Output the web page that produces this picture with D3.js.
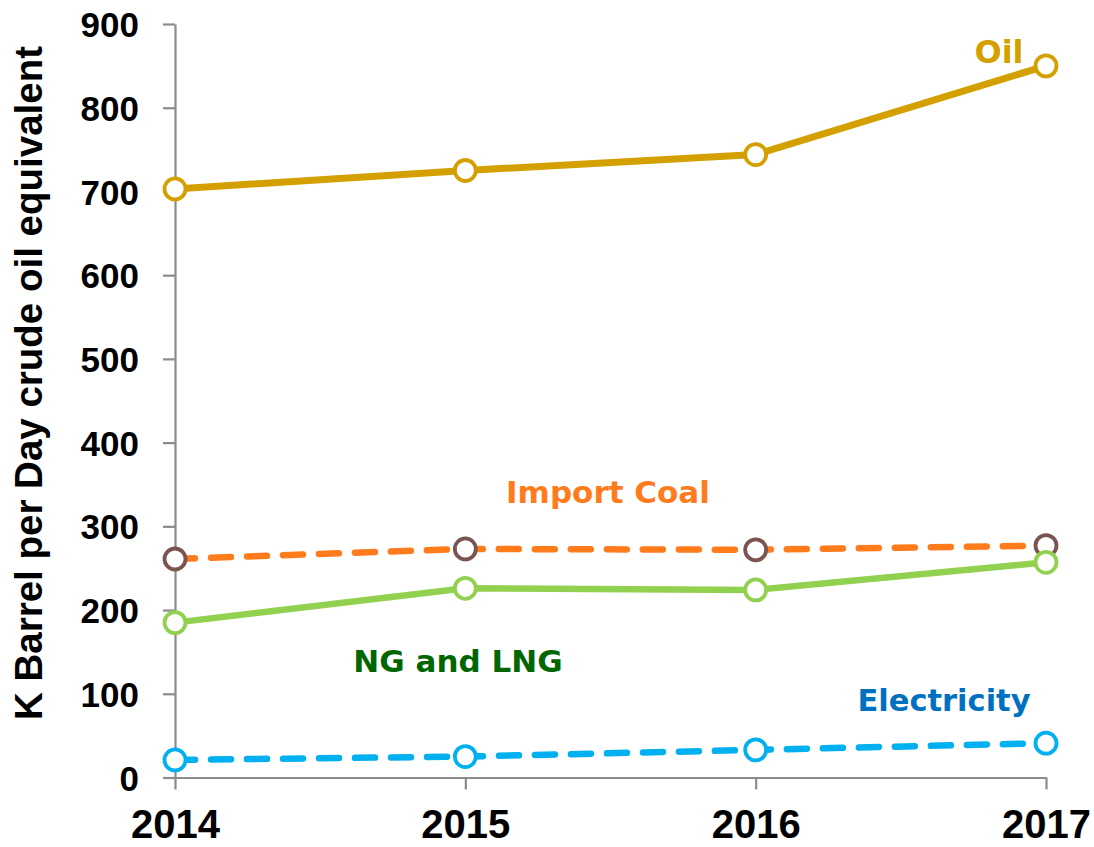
<!DOCTYPE html>
<html><head><meta charset="utf-8">
<script src="https://cdn.jsdelivr.net/npm/d3@7"></script>
<style>body{margin:0;background:#fff}</style>
</head><body>
<svg id="c" width="1094" height="847"></svg>
<script>
const years = [2014, 2015, 2016, 2017];
const oil = [703, 725, 744, 850];
const importCoal = [261, 273, 272, 277];
const ngLng = [185, 226, 224, 257];
const electricity = [21, 25, 33, 41];
const yTicks = [0, 100, 200, 300, 400, 500, 600, 700, 800, 900];
const yTitle = "K Barrel per Day crude oil equivalent";

const svg = d3.select("#c");
const x = d3.scalePoint().domain(years).range([175, 1046]);
const y = d3.scaleLinear().domain([0, 900]).range([777.5, 24]);

// axes
const yAxis = svg.append("g").attr("transform", "translate(175,0)")
  .call(d3.axisLeft(y).tickValues(yTicks).tickSize(12).tickPadding(24).tickSizeOuter(0));
const xAxis = svg.append("g").attr("transform", "translate(0,777.5)")
  .call(d3.axisBottom(x).tickSize(12).tickPadding(20).tickSizeOuter(0));
[yAxis, xAxis].forEach(a => {
  a.selectAll("path, line").attr("stroke", "#8c8c8c").attr("stroke-width", 2.2);
  a.selectAll("text").attr("fill", "#000").attr("font-family", "'Liberation Sans', Arial, sans-serif").attr("font-weight", "bold");
});
yAxis.selectAll("text").attr("font-size", 35).attr("dy", "0.36em");
xAxis.selectAll("text").attr("font-size", 40).attr("dy", "0.72em");

svg.append("text")
  .attr("transform", "translate(42,383) rotate(-90)")
  .attr("text-anchor", "middle")
  .attr("font-family", "'Liberation Sans', Arial, sans-serif")
  .attr("font-weight", "bold").attr("font-size", 38.5).attr("fill", "#000")
  .text(yTitle);

const series = [
  {vals: importCoal, color: "#FF7B1C", marker: "#7A5450", width: 6.5, dash: "20,16"},
  {vals: ngLng, color: "#92D050", marker: "#92D050", width: 6.5, dash: null},
  {vals: electricity, color: "#00B0F0", marker: "#00B0F0", width: 6.5, dash: "20,16"},
  {vals: oil, color: "#D4A000", marker: "#D4A000", width: 7, dash: null},
];
const line = d3.line().x((d, i) => x(years[i])).y(d => y(d));
series.forEach(s => {
  svg.append("path").attr("d", line(s.vals)).attr("fill", "none")
    .attr("stroke", s.color).attr("stroke-width", s.width)
    .attr("stroke-linecap", "round").attr("stroke-linejoin", "round")
    .attr("stroke-dasharray", s.dash);
});
series.forEach(s => {
  svg.append("g").selectAll("circle").data(s.vals).join("circle")
    .attr("cx", (d, i) => x(years[i])).attr("cy", d => y(d)).attr("r", 10.5)
    .attr("fill", "#fff").attr("stroke", s.marker).attr("stroke-width", 3.8);
});

const labels = [
  {t: "Oil", x: 999, y: 63, c: "#D4A000", s: 32},
  {t: "Import Coal", x: 608, y: 503, c: "#FF7B1C", s: 31},
  {t: "NG and LNG", x: 458, y: 672, c: "#006600", s: 31},
  {t: "Electricity", x: 944, y: 711, c: "#0070C0", s: 30.5},
];
svg.append("g").selectAll("text").data(labels).join("text")
  .attr("x", d => d.x).attr("y", d => d.y).attr("text-anchor", "middle")
  .attr("font-family", "'DejaVu Sans', Verdana, sans-serif").attr("font-weight", "bold").attr("font-size", d => d.s)
  .attr("fill", d => d.c).text(d => d.t);
</script>
</body></html>
